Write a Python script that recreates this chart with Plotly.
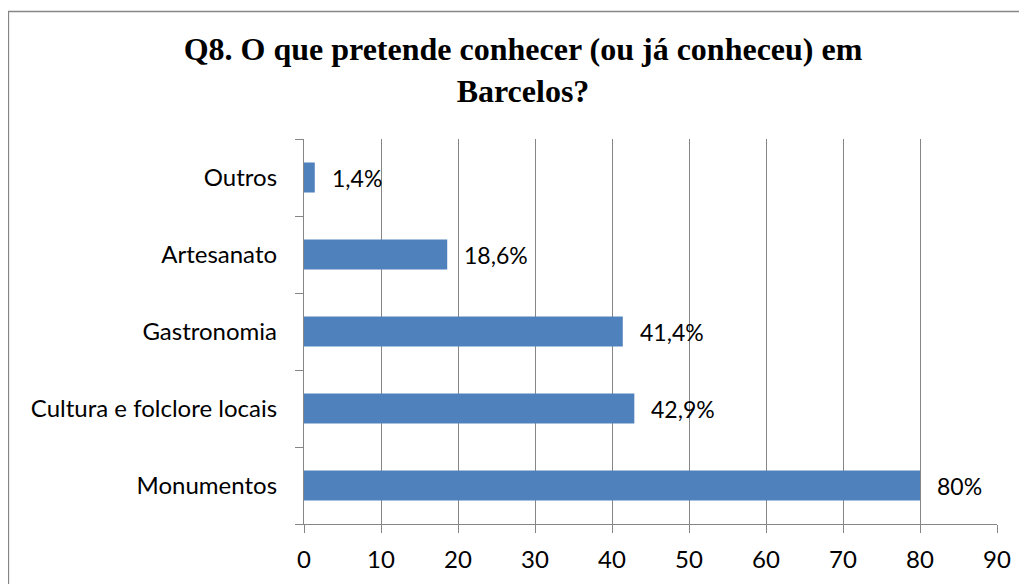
import plotly.graph_objects as go

categories = ["Monumentos", "Cultura e folclore locais", "Gastronomia", "Artesanato", "Outros"]
values = [80, 42.9, 41.4, 18.6, 1.4]
labels = ["80%", "42,9%", "41,4%", "18,6%", "1,4%"]
x_ticks = [0, 10, 20, 30, 40, 50, 60, 70, 80, 90]

FONT = "Lato"
GRAY = "#868686"

fig = go.Figure()
fig.add_trace(go.Bar(
    y=categories, x=values, orientation="h",
    marker=dict(color="#4F81BD", line=dict(width=0)),
    width=0.39,
    hoverinfo="skip",
))

for c, v, t in zip(categories, values, labels):
    fig.add_annotation(x=v, y=c, text=t, xanchor="left", yanchor="middle",
                       xshift=15, showarrow=False,
                       font=dict(family=FONT, size=23, color="black"))

# page body has an 8px margin, so the figure is drawn 8px in from the top-left
W, H = 1019, 576
L, R, T, B = 296, 30, 131, 60
pw, ph = W - L - R, H - T - B

def px(x):
    return (x - L) / pw

def py(y):
    return 1 - (y - T) / ph

fig.add_shape(type="rect", xref="paper", yref="paper",
              x0=px(0.5), x1=px(1012.5), y0=py(3.5), y1=py(600),
              line=dict(color=GRAY, width=1.3), fillcolor="rgba(0,0,0,0)", layer="below")

fig.update_layout(
    width=W, height=H,
    margin=dict(l=L, r=R, t=T, b=B, autoexpand=False),
    paper_bgcolor="white", plot_bgcolor="white",
    showlegend=False,
    title=dict(
        text="<b>Q8. O que pretende conhecer (ou já conheceu) em<br>Barcelos?</b>",
        x=515 / W, xanchor="center", xref="container", y=1 - 52 / H, yanchor="top", yref="container",
        font=dict(family="Liberation Serif", size=32, color="black"),
    ),
    xaxis=dict(
        range=[0, 90], tickvals=x_ticks, ticktext=[str(v) for v in x_ticks],
        showgrid=True, gridcolor=GRAY, gridwidth=1.3,
        showline=True, linecolor=GRAY, linewidth=1.3,
        ticks="outside", ticklen=8, tickcolor=GRAY, tickwidth=1.3,
        ticklabelstandoff=6,
        tickfont=dict(family=FONT, size=24, color="black"),
        zeroline=False, fixedrange=True,
    ),
    yaxis=dict(
        type="category", categoryorder="array", categoryarray=categories,
        range=[-0.5, 4.5],
        showgrid=False, showline=True, linecolor=GRAY, linewidth=1.3,
        ticks="outside", ticklen=8, tickcolor=GRAY, tickwidth=1.3,
        tickson="boundaries", ticklabelstandoff=21,
        tickfont=dict(family=FONT, size=24, color="black"),
        zeroline=False, fixedrange=True,
    ),
)

fig.write_html("out.html")
